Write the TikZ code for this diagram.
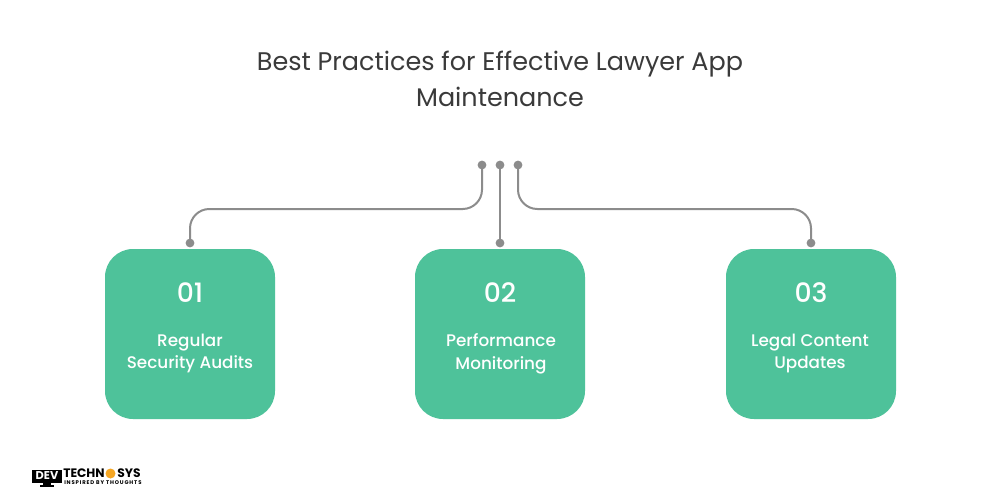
\documentclass[tikz,border=0pt]{standalone}
\usepackage{fontspec}
\setmainfont{Poppins}
\newfontfamily\medfont{Poppins Medium}
\usepackage{xcolor}
\usetikzlibrary{calc}
\definecolor{cardgreen}{HTML}{4EC29A}
\definecolor{linegray}{HTML}{8C8C8C}
\definecolor{titlegray}{HTML}{3A3A3A}
\definecolor{logoorange}{HTML}{F5A623}
\tikzset{
  card/.style={fill=cardgreen,rounded corners=21pt,minimum width=127.5pt,minimum height=127.5pt,inner sep=0pt},
  dot/.style={circle,fill=linegray,minimum size=6.6pt,inner sep=0pt},
  link/.style={draw=linegray,line width=1.5pt,rounded corners=14.5pt},
  numtext/.style={text=white,font=\medfont\fontsize{20}{24}\selectfont},
  cardtext/.style={text=white,align=center,font=\medfont\fontsize{12.6}{17}\selectfont},
  logotext/.style={text=black,font=\fontsize{9.2}{10}\selectfont\bfseries,inner sep=0pt,anchor=west}
}
\begin{document}
\begin{tikzpicture}[x=0.75pt,y=-0.75pt]
\useasboundingbox (0,0) rectangle (1000,500);
\fill[white] (0,0) rectangle (1000,500);

% Title
\node[text=titlegray,align=center,font=\fontsize{19.1}{27}\selectfont] (title) at (500,78.5) {Best Practices for Effective Lawyer App\\Maintenance};

% Cards
\node[card] (cardA) at (190,334) {};
\node[card] (cardB) at (500,334) {};
\node[card] (cardC) at (811,334) {};

% Card texts
\node[numtext] (numA) at (190,293) {01};
\node[numtext] (numB) at (500,293) {02};
\node[numtext] (numC) at (811,293) {03};
\node[cardtext] (textA) at (190,353.5) {Regular\\Security Audits};
\node[cardtext] (textB) at (501,353.5) {Performance\\Monitoring};
\node[cardtext] (textC) at (810,353.5) {Legal Content\\Updates};

% Dots
\node[dot] (topA) at (482,165) {};
\node[dot] (topB) at (500,165) {};
\node[dot] (topC) at (518,165) {};
\node[dot] (botA) at (190,243) {};
\node[dot] (botB) at (500,243) {};
\node[dot] (botC) at (811,243) {};

% Connectors
\draw[link] (topA.center) |- (botA.center |- 0,209) -- (botA.center);
\draw[link] (topB.center) -- (botB.center);
\draw[link] (topC.center) |- (botC.center |- 0,209) -- (botC.center);

% Logo
\fill[black] (32,469.5) rectangle (62,483);
\fill[black] (43,483) rectangle (51,485);
\fill[black] (40,485) rectangle (54,486.5);
\node[text=white,font=\fontsize{8.5}{9}\selectfont\bfseries,inner sep=0pt] (logoA) at (47,476) {DEV};
\node[logotext] (logoB) at (63,473.5) {TECHN};
\node[circle,fill=logoorange,minimum size=7.5pt,inner sep=0pt] (logoC) at (110.5,473.5) {};
\node[logotext] (logoD) at (117,473.5) {SYS};
\node[logotext,font=\fontsize{4}{4}\selectfont\bfseries\addfontfeatures{LetterSpace=16}] (logoE) at (64,483) {INSPIRED BY THOUGHTS};
\end{tikzpicture}
\end{document}
